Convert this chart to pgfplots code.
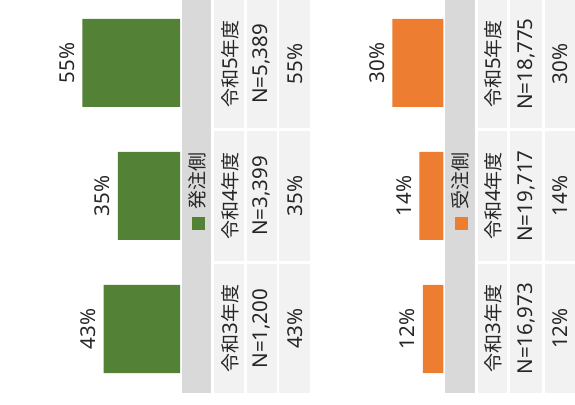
\documentclass[border=0pt]{standalone}
\usepackage{pgfplots}
\pgfplotsset{compat=1.18}
\usepackage{fontspec}
\setmainfont{Noto Sans}
\newfontfamily\cjk{Noto Sans CJK JP}
\definecolor{gr}{HTML}{538135}
\definecolor{og}{HTML}{ED7D31}
\definecolor{cell}{HTML}{F2F2F2}
\definecolor{strip}{HTML}{D9D9D9}
\definecolor{txt}{HTML}{262626}
\newcommand{\fs}{\fontsize{20.5}{24}\selectfont}
\newcommand{\J}[1]{{\cjk\fontsize{19}{21}\selectfont #1}}
\begin{document}
\begin{tikzpicture}
\begin{scope}[x=1pt,y=1pt]
\useasboundingbox (0,0) rectangle (575,404);
% strips
\fill[strip] (182,10.7) rectangle (211,404);
\fill[strip] (445,10.7) rectangle (475,404);
% cells panel 1 & 2
\foreach \xa/\xb in {214.3/244,247/276.5,278.7/310,478/506.7,510/541.7,545/575}{
  \foreach \ya/\yb in {276.3/404,143.3/273,10.7/140}{
    \fill[cell] (\xa,\ya) rectangle (\xb,\yb);
  }
}
% cell texts panel 1
\foreach \yc/\yr/\n/\p in {340/5/5{,}389/55,208/4/3{,}399/35,75.3/3/1{,}200/43}{
  \node[rotate=90,text=txt,font=\fs] at (230,\yc) {\J{令和}\yr\J{年度}};
  \node[rotate=90,text=txt,font=\fs] at (261.5,\yc) {N=\n};
  \node[rotate=90,text=txt,font=\fs] at (295.5,\yc) {\p\%};
}
% cell texts panel 2
\foreach \yc/\yr/\n/\p in {340/5/18{,}775/30,208/4/19{,}717/14,75.3/3/16{,}973/12}{
  \node[rotate=90,text=txt,font=\fs] at (493,\yc) {\J{令和}\yr\J{年度}};
  \node[rotate=90,text=txt,font=\fs] at (526.5,\yc) {N=\n};
  \node[rotate=90,text=txt,font=\fs] at (560.5,\yc) {\p\%};
}
% legends
\node[rotate=90,text=txt,inner sep=0pt] at (197.5,212.5) {\textcolor{gr}{\rule{13pt}{13pt}}\hspace{8pt}\J{発注側}};
\node[rotate=90,text=txt,inner sep=0pt] at (460.5,212.5) {\textcolor{og}{\rule{13pt}{13pt}}\hspace{8pt}\J{受注側}};
\end{scope}
\begin{axis}[at={(0pt,8.5pt)},anchor=south west, scale only axis, width=180pt, height=399pt,
 hide axis, xbar, x dir=reverse, xmin=0, xmax=101.4, ymin=-0.5, ymax=2.5, bar width=88pt, clip=false,
 point meta=x,
 nodes near coords={\pgfmathprintnumber[assume math mode=true]{\pgfplotspointmeta}\%},
 every node near coord/.append style={rotate=90, anchor=south, font=\fs, text=txt, inner sep=0pt, outer sep=8pt},
]
\addplot[fill=gr, draw=none] coordinates {(43,0) (35,1) (55,2)};
\end{axis}
\begin{axis}[at={(313pt,8.5pt)},anchor=south west, scale only axis, width=130.3pt, height=399pt,
 hide axis, xbar, x dir=reverse, xmin=0, xmax=76.6, ymin=-0.5, ymax=2.5, bar width=88pt, clip=false,
 point meta=x,
 nodes near coords={\pgfmathprintnumber[assume math mode=true]{\pgfplotspointmeta}\%},
 every node near coord/.append style={rotate=90, anchor=south, font=\fs, text=txt, inner sep=0pt, outer sep=8pt},
]
\addplot[fill=og, draw=none] coordinates {(12,0) (14,1) (30,2)};
\end{axis}
\end{tikzpicture}
\end{document}
